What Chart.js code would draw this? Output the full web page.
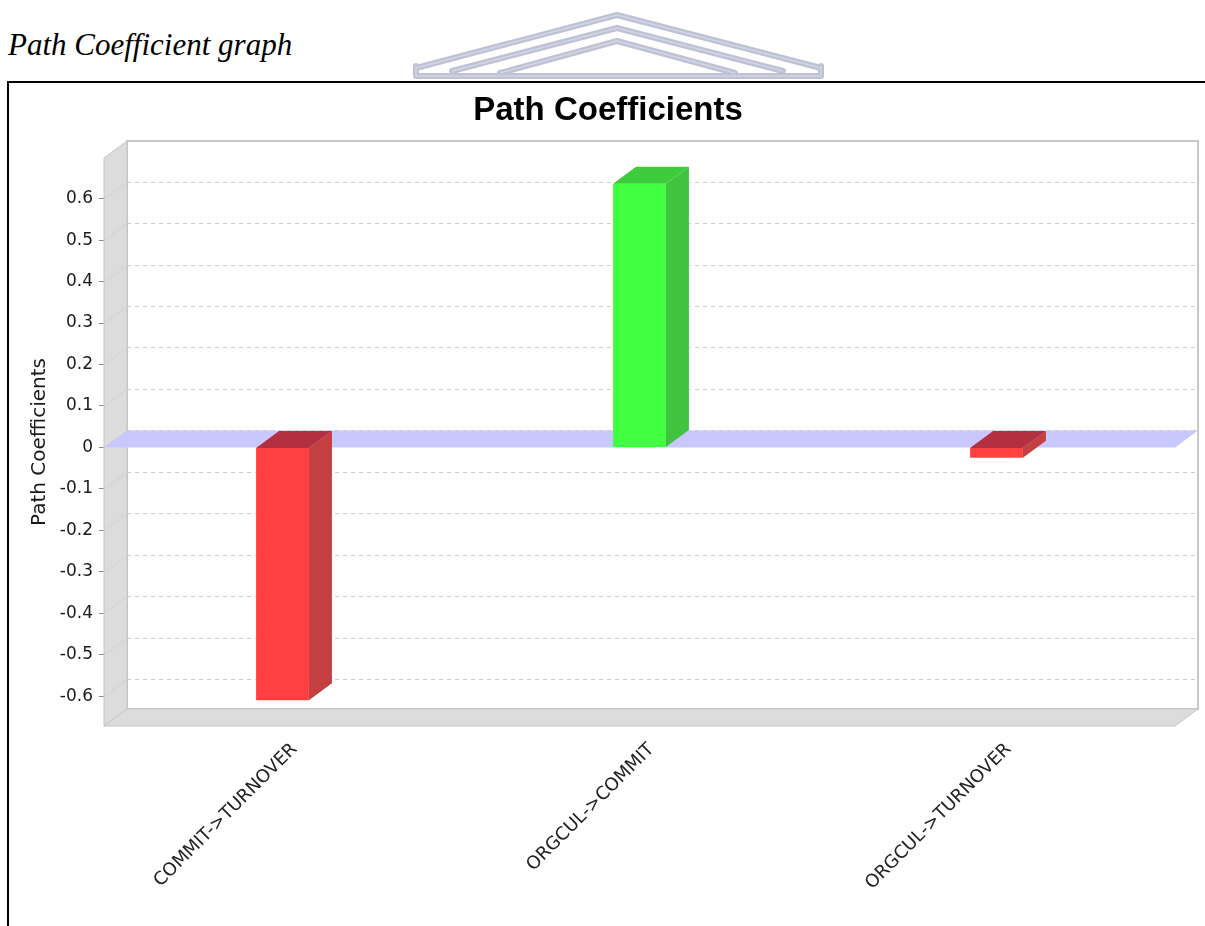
<!DOCTYPE html>
<html>
<head>
<meta charset="utf-8">
<title>Path Coefficient graph</title>
<script src="https://cdn.jsdelivr.net/npm/chart.js@4.4.1/dist/chart.umd.min.js"></script>
<style>
    html, body { margin: 0; padding: 0; background: #fff; }
    body { width: 1205px; height: 926px; position: relative; overflow: hidden; }
    #caption {
        position: absolute; left: 8px; top: 29px;
        font-family: 'Liberation Serif', serif; font-style: italic;
        font-size: 31px; line-height: 31px; color: #000;
    }
    #logo { position: absolute; left: 0; top: 0; }
    #frame {
        position: absolute; left: 7px; top: 81px; width: 1210px; height: 860px;
        border-top: 2px solid #000; border-left: 2px solid #000;
        pointer-events: none;
    }
    #chart-box { position: absolute; left: 0; top: 0; width: 1205px; height: 926px; }
</style>
</head>
<body>
<div id="caption">Path Coefficient graph</div>
<svg id="logo" width="1205" height="90">
    <g fill="none" stroke="#bfc2d4" stroke-width="6" stroke-linejoin="round" stroke-linecap="round">
        <polyline points="416,68 617,15 821,68"/>
        <polyline points="452,71 617,28 783,71"/>
        <polyline points="500,73 617,41 735,73"/>
        <polyline points="416,66 416,76 821,76 821,66"/>
    </g>
    <g fill="none" stroke="#d3d5e2" stroke-width="1.5" stroke-linejoin="round">
        <polyline points="416,68 617,15 821,68"/>
        <polyline points="452,71 617,28 783,71"/>
        <polyline points="500,73 617,41 735,73"/>
        <polyline points="416,66 416,76 821,76 821,66"/>
    </g>
</svg>
<div id="chart-box"><canvas id="pathChart" width="1205" height="926"></canvas></div>
<div id="frame"></div>

<script>
// values
const categories = ['COMMIT->TURNOVER', 'ORGCUL->COMMIT', 'ORGCUL->TURNOVER'];
const pathCoefficients = [-0.61, 0.636, -0.025];
const yTickValues = [-0.6, -0.5, -0.4, -0.3, -0.2, -0.1, 0, 0.1, 0.2, 0.3, 0.4, 0.5, 0.6];
const yMin = -0.672;
const yMax = 0.698;

// depth of the fake 3d look
const DX = 23;
const DY = -17;

function poly(ctx, pts, fill, stroke) {
    ctx.beginPath();
    ctx.moveTo(pts[0][0], pts[0][1]);
    for (let i = 1; i < pts.length; i++) ctx.lineTo(pts[i][0], pts[i][1]);
    ctx.closePath();
    if (fill) { ctx.fillStyle = fill; ctx.fill(); }
    if (stroke) { ctx.strokeStyle = stroke; ctx.lineWidth = 1; ctx.stroke(); }
}

const threeD = {
    id: 'threeD',
    beforeDatasetsDraw(chart) {
        const ctx = chart.ctx;
        const a = chart.chartArea;
        const y = chart.scales.y;
        ctx.save();

        // back wall
        ctx.fillStyle = '#fff';
        ctx.fillRect(a.left + DX, a.top + DY, a.right - a.left, a.bottom - a.top);
        ctx.strokeStyle = '#c8c8c8';
        ctx.lineWidth = 2;
        ctx.strokeRect(a.left + DX, a.top + DY, a.right - a.left, a.bottom - a.top);

        // left wall + floor
        poly(ctx, [[a.left, a.top], [a.left + DX, a.top + DY], [a.left + DX, a.bottom + DY], [a.left, a.bottom]], '#dcdcdc', '#c4c4c4');
        poly(ctx, [[a.left, a.bottom], [a.left + DX, a.bottom + DY], [a.right + DX, a.bottom + DY], [a.right, a.bottom]], '#dcdcdc', '#c4c4c4');

        // grid lines on the back wall
        ctx.lineWidth = 1;
        yTickValues.forEach(v => {
            const py = Math.round(y.getPixelForValue(v)) + 0.5;
            ctx.setLineDash([]);
            ctx.strokeStyle = '#d2d2d2';
            ctx.beginPath();
            ctx.moveTo(a.left, py);
            ctx.lineTo(a.left + DX, py + DY);
            ctx.stroke();
            ctx.setLineDash([4, 4]);
            ctx.strokeStyle = '#cfcfcf';
            ctx.beginPath();
            ctx.moveTo(a.left + DX, py + DY);
            ctx.lineTo(a.right + DX, py + DY);
            ctx.stroke();
        });
        ctx.setLineDash([]);

        // zero plane
        const y0 = y.getPixelForValue(0);
        poly(ctx, [[a.left, y0], [a.left + DX, y0 + DY], [a.right + DX, y0 + DY], [a.right, y0]], 'rgb(200,200,255)');
        ctx.restore();
    },
    afterDatasetsDraw(chart) {
        const ctx = chart.ctx;
        const meta = chart.getDatasetMeta(0);
        ctx.save();
        meta.data.forEach((bar, i) => {
            const p = bar.getProps(['x', 'y', 'base', 'width'], true);
            const l = p.x - p.width / 2;
            const r = p.x + p.width / 2;
            const top = Math.min(p.y, p.base);
            const bot = Math.max(p.y, p.base);
            const neg = pathCoefficients[i] < 0;
            const side = neg ? '#c44040' : '#40c440';
            const cap = neg ? '#b23040' : '#3ccc3c';
            poly(ctx, [[r, top], [r + DX, top + DY], [r + DX, bot + DY], [r, bot]], side);
            poly(ctx, [[l, top], [l + DX, top + DY], [r + DX, top + DY], [r, top]], cap);
        });
        ctx.restore();
    }
};

document.addEventListener('DOMContentLoaded', function() {
    const ctx = document.getElementById('pathChart').getContext('2d');

    new Chart(ctx, {
        type: 'bar',
        data: {
            labels: categories,
            datasets: [{
                label: 'Path Coefficients',
                data: pathCoefficients,
                backgroundColor: pathCoefficients.map(v => v < 0 ? '#ff4040' : '#40ff40'),
                borderWidth: 0,
                categoryPercentage: 1,
                barPercentage: 0.148
            }]
        },
        options: {
            responsive: false,
            animation: false,
            // left padding keeps the title centred where the original has it
            layout: { padding: { left: 41, right: 30, top: 0, bottom: 0 } },
            plugins: {
                legend: { display: false },
                tooltip: { enabled: false },
                title: {
                    display: true,
                    text: 'Path Coefficients',
                    color: '#000',
                    font: { family: 'Liberation Sans', size: 33, weight: 'bold' },
                    padding: { top: 91, bottom: 27.4 }
                }
            },
            scales: {
                x: {
                    grid: { display: false },
                    border: { display: false },
                    ticks: {
                        autoSkip: false,
                        maxRotation: 45,
                        minRotation: 45,
                        padding: 5,
                        labelOffset: 12,
                        color: '#222',
                        font: { family: 'DejaVu Sans', size: 18 }
                    },
                    afterFit: function(scale) { scale.height = 200; }
                },
                y: {
                    min: yMin,
                    max: yMax,
                    bounds: 'data',
                    grid: {
                        display: true,
                        drawOnChartArea: false,
                        drawTicks: true,
                        tickLength: 5,
                        color: '#888'
                    },
                    border: { display: false },
                    ticks: {
                        padding: 6,
                        color: '#1a1a1a',
                        font: { family: 'DejaVu Sans', size: 17 },
                        callback: v => parseFloat(v.toFixed(1)).toString()
                    },
                    title: {
                        display: true,
                        text: 'Path Coefficients',
                        color: '#1a1a1a',
                        font: { family: 'DejaVu Sans', size: 20 },
                        padding: { top: -13, bottom: 0 }
                    },
                    afterBuildTicks: function(scale) {
                        scale.ticks = yTickValues.map(v => ({ value: v }));
                    },
                    afterFit: function(scale) { scale.width = 63; }
                }
            }
        },
        plugins: [threeD]
    });
});
</script>
</body>
</html>
